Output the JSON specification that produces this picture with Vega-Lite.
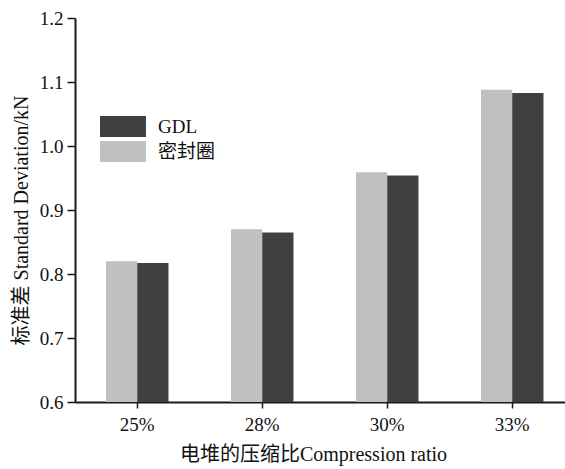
{
  "$schema": "https://vega.github.io/schema/vega-lite/v6.json",
  "autosize": {"type": "none"},
  "padding": {"left": 75, "top": 18, "right": 0, "bottom": 67},
  "width": 490,
  "height": 384,
  "background": "white",
  "config": {
    "font": "'Liberation Serif', 'Times New Roman', 'Noto Sans CJK SC', serif",
    "view": {"stroke": null},
    "axis": {
      "domainColor": "#1a1a1a",
      "domainWidth": 2,
      "tickColor": "#1a1a1a",
      "tickWidth": 1.5,
      "labelColor": "#111",
      "titleColor": "#111",
      "grid": false,
      "labelFont": "'Liberation Serif', 'Times New Roman', serif",
      "titleFont": "'Liberation Serif', 'Times New Roman', 'Noto Sans CJK SC', serif",
      "titleFontWeight": "normal"
    }
  },
  "data": {
    "values": [
      {"ratio": "25%", "series": "密封圈", "sd": 0.820},
      {"ratio": "25%", "series": "GDL", "sd": 0.817},
      {"ratio": "28%", "series": "密封圈", "sd": 0.870},
      {"ratio": "28%", "series": "GDL", "sd": 0.865},
      {"ratio": "30%", "series": "密封圈", "sd": 0.959},
      {"ratio": "30%", "series": "GDL", "sd": 0.954},
      {"ratio": "33%", "series": "密封圈", "sd": 1.088},
      {"ratio": "33%", "series": "GDL", "sd": 1.083}
    ]
  },
  "mark": {"type": "bar", "clip": true},
  "encoding": {
    "x": {
      "field": "ratio",
      "type": "nominal",
      "sort": ["25%", "28%", "30%", "33%"],
      "scale": {"paddingInner": 0.5, "paddingOuter": 0.21, "align": 0.59},
      "axis": {
        "title": "电堆的压缩比Compression ratio",
        "labelAngle": 0,
        "labelFontSize": 19,
        "tickSize": 6,
        "labelPadding": 7,
        "titleFontSize": 20,
        "titleX": 238,
        "titleY": 58,
        "titleBaseline": "alphabetic"
      }
    },
    "xOffset": {
      "field": "series",
      "type": "nominal",
      "scale": {"domain": ["密封圈", "GDL"], "paddingInner": 0, "paddingOuter": 0}
    },
    "y": {
      "field": "sd",
      "type": "quantitative",
      "scale": {"domain": [0.6, 1.2], "zero": false, "nice": false},
      "axis": {
        "title": "标准差 Standard Deviation/kN",
        "values": [0.6, 0.7, 0.8, 0.9, 1.0, 1.1, 1.2],
        "format": ".1f",
        "labelFontSize": 19,
        "tickSize": 8,
        "labelPadding": 4,
        "titleFontSize": 20,
        "titleX": -48,
        "titleY": 202,
        "titleBaseline": "alphabetic"
      }
    },
    "color": {
      "field": "series",
      "type": "nominal",
      "scale": {"domain": ["GDL", "密封圈"], "range": ["#404040", "#c0c0c0"]},
      "legend": {
        "title": null,
        "orient": "none",
        "legendX": 38.5,
        "legendY": 99,
        "symbolType": "M-4.18,-1.91H4.18V1.91H-4.18Z",
        "symbolSize": 121,
        "symbolStrokeWidth": 0,
        "symbolOpacity": 1,
        "labelFontSize": 19,
        "labelFont": "'Liberation Serif', 'Times New Roman', 'Noto Sans CJK SC', serif",
        "labelColor": "#111",
        "labelOffset": 25.5,
        "rowPadding": 2
      }
    }
  }
}
